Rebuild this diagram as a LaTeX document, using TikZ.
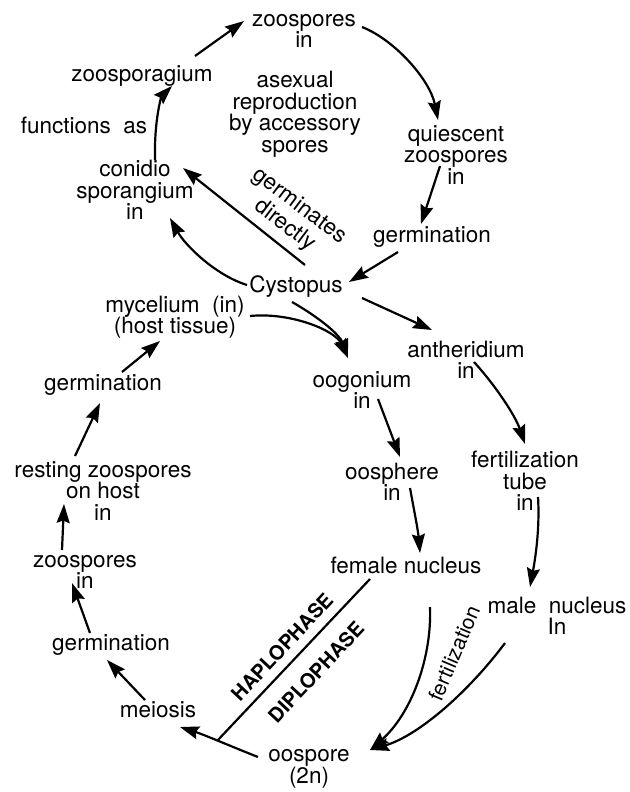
\documentclass[tikz,border=0pt]{standalone}
\usepackage{fontspec}
\setmainfont{TeX Gyre Heros}
\usetikzlibrary{arrows.meta}
\begin{document}
\begin{tikzpicture}[x=1pt,y=-1pt,
  lbl/.style={inner sep=1pt,align=center,font=\fontsize{22.5}{21.5}\selectfont},
  phase/.style={inner sep=1pt,font=\fontsize{20}{20}\selectfont\bfseries,rotate=47},
  arr/.style={black,line width=2.2pt,-{Stealth[length=19pt,width=13pt,inset=2.5pt]}}]
\useasboundingbox (0,0) rectangle (629,792);
\node[lbl] (zsp) at (304,31) {zoospores\\in};
\node[lbl] (zsg) at (142,76) {zoosporagium};
\node[lbl] (fas) at (84,125) {functions\ \ as};
\node[lbl] (asx) at (295,114) {asexual\\reproduction\\by accessory\\spores};
\node[lbl] (qsz) at (456,155) {quiescent\\zoospores\\in};
\node[lbl] (gr1) at (432,237) {germination};
\node[lbl] (cys) at (296,287) {Cystopus};
\node[lbl] (con) at (135,190) {conidio\\sporangium\\in};
\node[lbl,rotate=-37,font=\fontsize{22.5}{24}\selectfont] (gdl) at (292,216) {germinates\\directly};
\node[lbl] (myc) at (175,317) {mycelium\ \ (in)\\(host tissue)};
\node[lbl] (gr2) at (103,385) {germination};
\node[lbl] (rzs) at (103,491) {resting zoospores\\on host\\in};
\node[lbl] (zsl) at (85,572) {zoospores\\in};
\node[lbl] (gr3) at (111,645) {germination};
\node[lbl] (mei) at (158,710) {meiosis};
\node[lbl] (oos) at (309,769) {oospore\\(2n)};
\node[lbl] (oog) at (362,390) {oogonium\\in};
\node[lbl] (osp) at (392,482) {oosphere\\in};
\node[lbl] (fnu) at (406,565) {female nucleus};
\node[lbl] (ant) at (466,360) {antheridium\\in};
\node[lbl] (ftu) at (525,481) {fertilization\\tube\\in};
\node[lbl] (mnu) at (557,616) {male\ \ nucleus\\In};
\node[phase] (hap) at (282,647) {HAPLOPHASE};
\node[phase] (dip) at (316,672) {DIPLOPHASE};
\node[lbl,rotate=67,font=\fontsize{21}{21}\selectfont] (fer) at (454,653) {fertilization};
\draw[arr] ([shift={(20,-30)}]con.center) .. controls (154,118) and (162,96) .. ([shift={(30,10)}]zsg.center);
\draw[arr] ([shift={(53,-20)}]zsg.center) -- ([shift={(-60,-10)}]zsp.center);
\draw[arr] ([shift={(58,-4)}]zsp.center) .. controls (395,40) and (430,80) .. ([shift={(-18,-35)}]qsz.center);
\draw[arr] ([shift={(-16,11)}]qsz.center) -- ([shift={(-11,-13)}]gr1.center);
\draw[arr] ([shift={(-34,15)}]gr1.center) -- ([shift={(53,-5)}]cys.center);
\draw[arr] ([shift={(9,-22)}]cys.center) -- ([shift={(48,-22)}]con.center);
\draw[arr] ([shift={(-49,-2)}]cys.center) .. controls (215,275) and (185,245) .. ([shift={(35,28)}]con.center);
\draw[arr] ([shift={(66,11)}]cys.center) -- ([shift={(-34,-30)}]ant.center);
\draw[arr] ([shift={(-4,15)}]cys.center) .. controls (320,318) and (340,335) .. ([shift={(-14,-32)}]oog.center);
\draw[arr] ([shift={(75,-1)}]myc.center) .. controls (290,312) and (335,330) .. ([shift={(-14,-32)}]oog.center);
\draw[arr] ([shift={(19,-13)}]gr2.center) -- ([shift={(-15,24)}]myc.center);
\draw[arr] ([shift={(-28,-35)}]rzs.center) -- ([shift={(-3,18)}]gr2.center);
\draw[arr] ([shift={(-23,-22)}]zsl.center) -- ([shift={(-39,13)}]rzs.center);
\draw[arr] ([shift={(-21,-12)}]gr3.center) -- ([shift={(-13,11)}]zsl.center);
\draw[arr] ([shift={(-13,-10)}]mei.center) -- ([shift={(-4,15)}]gr3.center);
\draw[arr] ([shift={(-51,-12)}]oos.center) .. controls (235,748) and (205,735) .. ([shift={(22,17)}]mei.center);
\draw[black,line width=2.2pt] ([shift={(-92,-28)}]oos.center) -- ([shift={(-36,14)}]fnu.center);
\draw[arr] ([shift={(16,9)}]oog.center) -- ([shift={(8,-25)}]osp.center);
\draw[arr] ([shift={(18,6)}]osp.center) .. controls (414,510) and (418,530) .. ([shift={(14,-12)}]fnu.center);
\draw[arr] ([shift={(8,2)}]ant.center) .. controls (495,385) and (515,415) .. ([shift={(0,-37)}]ftu.center);
\draw[arr] ([shift={(13,16)}]ftu.center) .. controls (540,530) and (535,560) .. ([shift={(-27,-29)}]mnu.center);
\draw[arr] ([shift={(24,42)}]fnu.center) .. controls (432,660) and (410,715) .. ([shift={(61,-19)}]oos.center);
\draw[arr] ([shift={(-52,27)}]mnu.center) .. controls (470,690) and (420,735) .. ([shift={(61,-19)}]oos.center);
\end{tikzpicture}
\end{document}
